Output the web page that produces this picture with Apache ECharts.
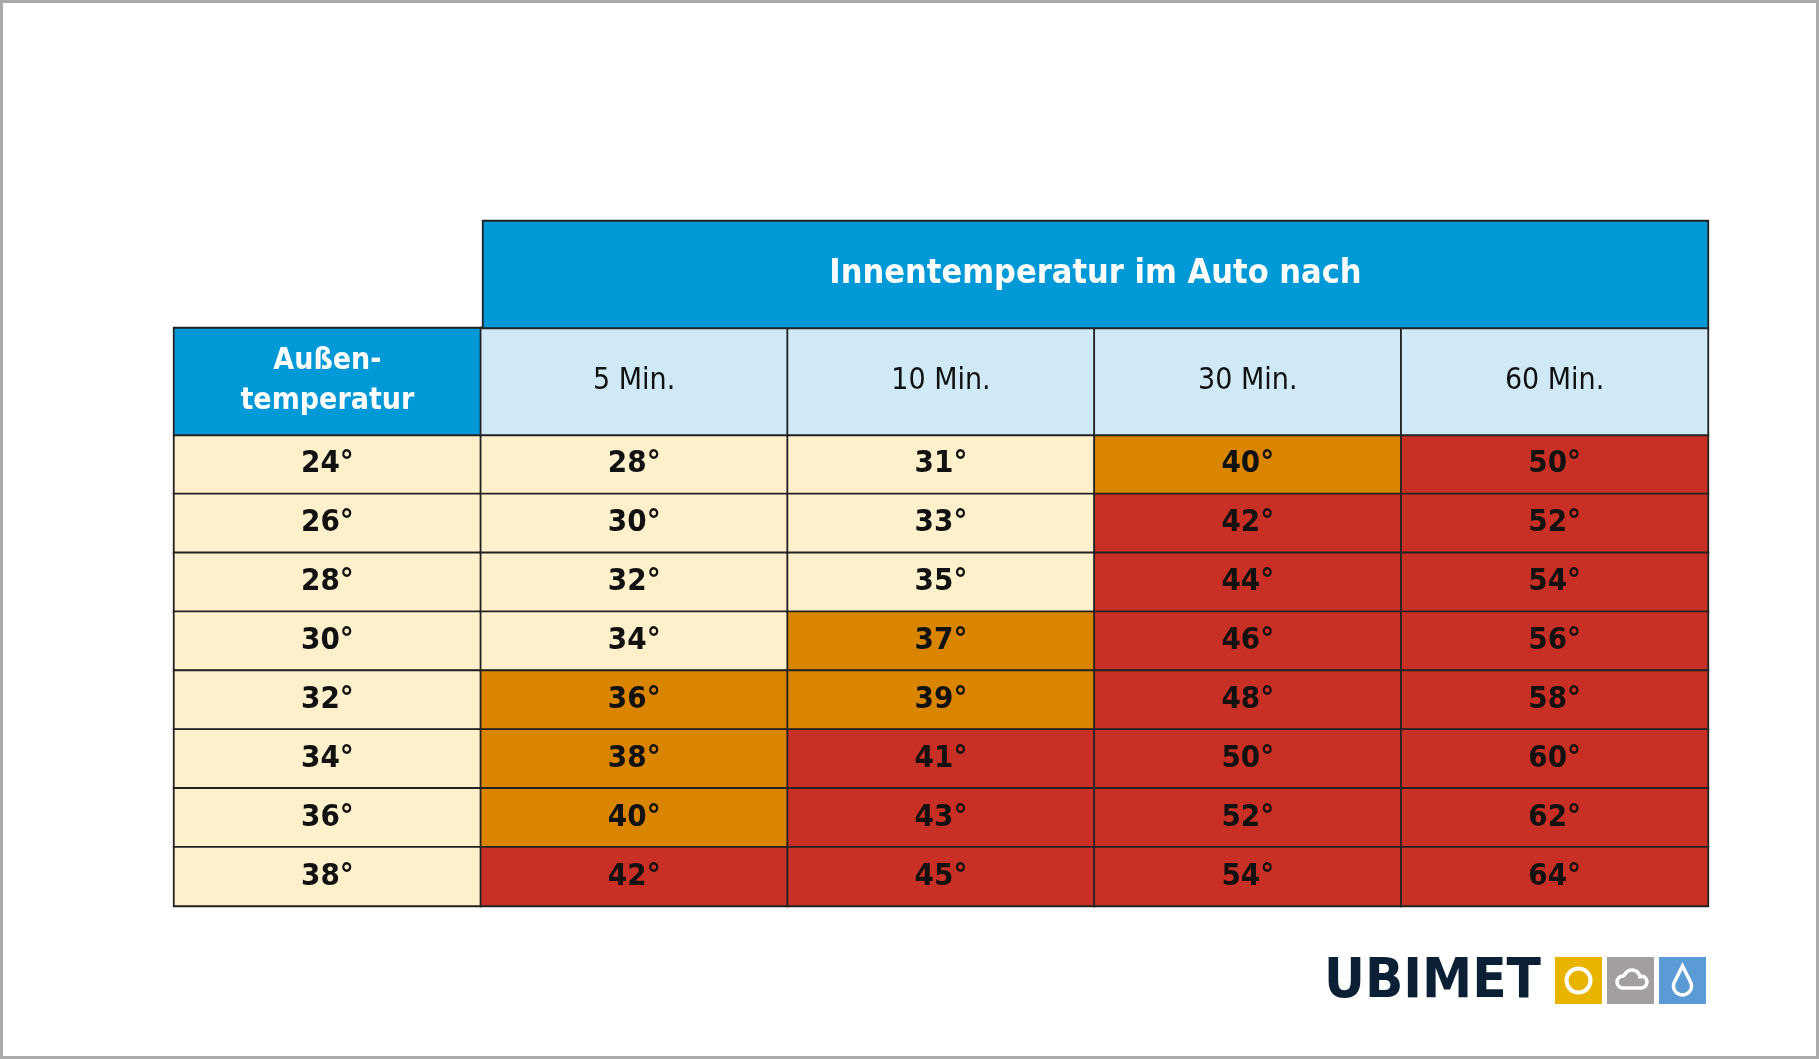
<!DOCTYPE html>
<html><head><meta charset="utf-8">
<script src="https://cdn.jsdelivr.net/npm/echarts@6/dist/echarts.min.js"></script>
<style>html,body{margin:0;padding:0;background:#fff}#c{width:1819px;height:1059px}</style>
</head><body><div id="c"></div>
<script>
const title = 'Innentemperatur im Auto nach';
const rowHeader = 'Außen-\ntemperatur';
const durations = ['5 Min.', '10 Min.', '30 Min.', '60 Min.'];
const outside = [24, 26, 28, 30, 32, 34, 36, 38];
const min5  = [28, 30, 32, 34, 36, 38, 40, 42];
const min10 = [31, 33, 35, 37, 39, 41, 43, 45];
const min30 = [40, 42, 44, 46, 48, 50, 52, 54];
const min60 = [50, 52, 54, 56, 58, 60, 62, 64];

const CREAM='#fff0cc', ORANGE='#d98500', RED='#c93025', BLUE='#0099d8', LBLUE='#cfeaf6', LINE='#222';
const font = '"DejaVu Sans Condensed","DejaVu Sans",sans-serif';
function heat(v){ return v<=35?CREAM:(v<=40?ORANGE:RED); }

const cols = [outside, min5, min10, min30, min60];
const bodyData = [];
cols.forEach((arr,ci)=>arr.forEach((v,ri)=>{
  bodyData.push({value:[ci,ri,v], itemStyle:{color: ci===0?CREAM:heat(v)}});
}));
const xCats = [0,1,2,3,4].map(String);
const headData = [{name:rowHeader, value:[0,0,1], itemStyle:{color:BLUE}, label:{color:'#fff',fontWeight:'bold',lineHeight:40,padding:[4,0,0,0]}}]
  .concat(durations.map((d,i)=>({name:d, value:[i+1,0,1], itemStyle:{color:LBLUE}})));

function arcPts(cx,cy,r,a0,a1,n){const p=[];for(let i=0;i<=n;i++){const a=a0+(a1-a0)*i/n;p.push([cx+r*Math.cos(a),cy+r*Math.sin(a)]);}return p;}
const PI=Math.PI, DX=-6;
const cloud = [].concat(
  arcPts(1629+DX,982,6,PI/2,PI*1.5,10),
  arcPts(1638+DX,978,8,PI*1.15,PI*1.95,12),
  arcPts(1647+DX,982,6,PI*1.6,PI*2.5,10)
);
const drop = [[1688.5+DX,966]].concat(arcPts(1688.5+DX,986,9,-PI*0.15,PI*1.15,20));

const L=174, R=111;
const chart = echarts.init(document.getElementById('c'));
chart.setOption({
  animation:false,
  grid:[
    {left:L, right:R, top:435, bottom:153},
    {left:L, right:R, top:328, height:107},
    {left:483, right:R, top:221, height:107}
  ],
  xAxis:[
    {type:'category', data:xCats, gridIndex:0, show:false},
    {type:'category', data:xCats, gridIndex:1, show:false},
    {type:'category', data:['t'], gridIndex:2, show:false}
  ],
  yAxis:[
    {type:'category', data:outside.map(String), inverse:true, gridIndex:0, show:false},
    {type:'category', data:['h'], gridIndex:1, show:false},
    {type:'category', data:['t'], gridIndex:2, show:false}
  ],
  series:[
    {type:'heatmap', xAxisIndex:0, yAxisIndex:0, data:bodyData,
     itemStyle:{borderColor:LINE, borderWidth:1.8},
     label:{show:true, formatter:p=>p.value[2]+'°', fontFamily:font, fontWeight:'bold', fontSize:31, color:'#111', padding:[3,0,0,0]}},
    {type:'heatmap', xAxisIndex:1, yAxisIndex:1, data:headData,
     itemStyle:{borderColor:LINE, borderWidth:1.8},
     label:{show:true, formatter:p=>p.name, fontFamily:font, fontSize:30, color:'#111', padding:[6,0,0,0]}},
    {type:'heatmap', xAxisIndex:2, yAxisIndex:2, data:[{name:title, value:[0,0,1]}],
     itemStyle:{color:BLUE, borderColor:LINE, borderWidth:1.8},
     label:{show:true, formatter:p=>p.name, fontFamily:font, fontWeight:'bold', fontSize:34, color:'#fff', padding:[4,0,0,0]}}
  ],
  graphic:[
    {type:'rect', shape:{x:1.5,y:1.5,width:1816,height:1056}, style:{fill:'none', stroke:'#aaa', lineWidth:3}},
    {type:'text', x:1324, y:954, style:{text:'UBIMET', font:'bold 56px "DejaVu Sans Condensed","DejaVu Sans",sans-serif', fill:'#0b1f35'}},
    {type:'rect', shape:{x:1561+DX,y:957,width:47,height:47}, style:{fill:'#e8b400'}},
    {type:'circle', shape:{cx:1584.5+DX,cy:980.5,r:12}, style:{fill:'none', stroke:'#fff', lineWidth:4}},
    {type:'rect', shape:{x:1613+DX,y:957,width:47,height:47}, style:{fill:'#a39f9e'}},
    {type:'polygon', shape:{points:cloud}, style:{fill:'none', stroke:'#fff', lineWidth:3.5}},
    {type:'rect', shape:{x:1665+DX,y:957,width:47,height:47}, style:{fill:'#5b9bd5'}},
    {type:'polygon', shape:{points:drop}, style:{fill:'none', stroke:'#fff', lineWidth:3.5}}
  ]
});
</script></body></html>
